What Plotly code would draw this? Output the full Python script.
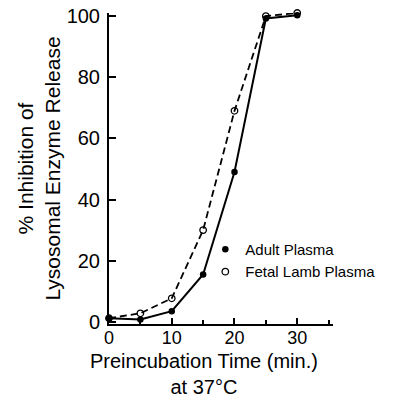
import plotly.graph_objects as go

time_min = [0, 5, 10, 15, 20, 25, 30]
adult_plasma = [1.2, 0.8, 3.5, 15.5, 49, 99.2, 100.3]
fetal_lamb_plasma = [1.2, 2.8, 7.7, 30, 69, 100, 101]
y_ticks = [0, 20, 40, 60, 80, 100]
x_ticks = [0, 10, 20, 30]
x_title = "Preincubation Time (min.)<br>at 37°C"
y_title = "% Inhibition of<br>Lysosomal Enzyme Release"

FONT = "Liberation Sans, Arial, Helvetica, sans-serif"

fig = go.Figure()

# connecting lines
fig.add_trace(go.Scatter(x=time_min, y=adult_plasma, mode="lines",
                         line=dict(color="black", width=2), showlegend=False,
                         hoverinfo="skip"))
fig.add_trace(go.Scatter(x=time_min, y=fetal_lamb_plasma, mode="lines",
                         line=dict(color="black", width=1.8, dash="7px,4px"),
                         showlegend=False, hoverinfo="skip"))
# markers (legend entries)
fig.add_trace(go.Scatter(x=time_min, y=adult_plasma, mode="markers",
                         name="Adult Plasma", cliponaxis=False,
                         marker=dict(symbol="circle", size=6.5, color="black",
                                     line=dict(width=0))))
fig.add_trace(go.Scatter(x=time_min, y=fetal_lamb_plasma, mode="markers",
                         name="Fetal Lamb Plasma", cliponaxis=False,
                         marker=dict(symbol="circle-open", size=6.5, color="black",
                                     line=dict(width=1.3, color="black"))))

fig.update_layout(
    width=398, height=401,
    margin=dict(l=109, r=65, t=13, b=77),
    paper_bgcolor="white", plot_bgcolor="white",
    font=dict(family=FONT, color="black"),
    showlegend=True,
    legend=dict(x=0.43, y=0.293, xanchor="left", yanchor="top",
                bgcolor="rgba(0,0,0,0)", borderwidth=0,
                font=dict(size=15, family=FONT), itemwidth=30,
                tracegroupgap=0),
    annotations=[dict(text=x_title, xref="paper", yref="paper",
                      x=0.424, y=-0.161, xanchor="center", yanchor="middle",
                      showarrow=False, font=dict(size=20, family=FONT))],
)

fig.update_xaxes(
    range=[0, 35.7], tickvals=x_ticks, ticktext=[str(v) for v in x_ticks],
    ticks="inside", ticklen=6, tickwidth=1.5, tickcolor="black",
    minor=dict(dtick=5, tick0=0, ticks="inside", ticklen=4, tickwidth=1.5,
               tickcolor="black"),
    showline=True, linecolor="black", linewidth=2,
    showgrid=False, zeroline=False, automargin=False,
    tickfont=dict(size=18, family=FONT), ticklabelstandoff=-4,
)
fig.update_yaxes(
    range=[-0.7, 101], tickvals=y_ticks, ticktext=[str(v) for v in y_ticks],
    ticks="inside", ticklen=7, tickwidth=1.5, tickcolor="black",
    showline=True, linecolor="black", linewidth=2,
    showgrid=False, zeroline=False, automargin=False,
    tickfont=dict(size=20, family=FONT), ticklabelstandoff=3,
    title=dict(text=y_title, font=dict(size=21, family=FONT), standoff=0),
)

fig.write_html("out.html")
